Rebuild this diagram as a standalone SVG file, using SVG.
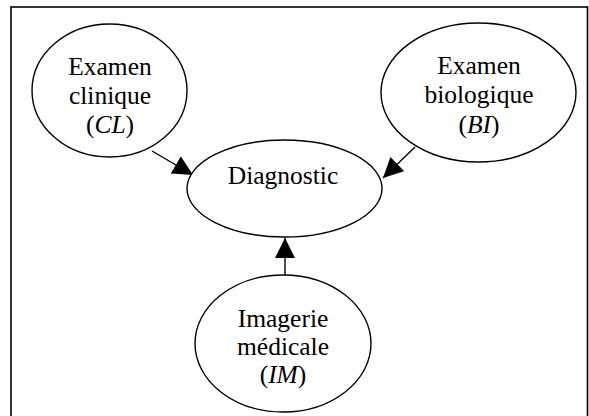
<svg xmlns="http://www.w3.org/2000/svg" width="589" height="416" viewBox="0 0 589 416">
<defs>
<style>
.node ellipse{fill:#fff;stroke:#000;stroke-width:1.4}
.lbl{font-family:"Liberation Serif","Times New Roman",serif;font-size:25.5px;fill:#000;text-anchor:middle}
.it{font-style:italic}
.edge{stroke:#000;stroke-width:1.4;fill:none}
</style>
<marker id="ah" markerWidth="20" markerHeight="20" viewBox="0 0 20 20" refX="20" refY="10" orient="auto" markerUnits="userSpaceOnUse">
<path d="M0,0 L20,10 L0,20 Z" fill="#000"/>
</marker>
</defs>
<rect x="0" y="0" width="589" height="416" fill="#fff"/>
<rect id="frame" x="11" y="7" width="576.5" height="430" fill="none" stroke="#000" stroke-width="1.6"/>
<g id="connectors">
<line class="edge" x1="152" y1="151" x2="193" y2="175" marker-end="url(#ah)"/>
<line class="edge" x1="415" y1="147" x2="383" y2="178" marker-end="url(#ah)"/>
<line class="edge" x1="285" y1="275" x2="285" y2="238" marker-end="url(#ah)"/>
</g>
<g id="CL" class="node">
<ellipse cx="109.5" cy="90.5" rx="77.5" ry="66.5"/>
<text class="lbl" x="110" y="75">Examen</text>
<text class="lbl" x="110" y="104">clinique</text>
<text class="lbl" x="110" y="133">(<tspan class="it">CL</tspan>)</text>
</g>
<g id="BI" class="node">
<ellipse cx="478.5" cy="92.5" rx="97.5" ry="69.5"/>
<text class="lbl" x="479" y="74">Examen</text>
<text class="lbl" x="479" y="103">biologique</text>
<text class="lbl" x="479" y="133">(<tspan class="it">BI</tspan>)</text>
</g>
<g id="DIAG" class="node">
<ellipse cx="284.5" cy="188.5" rx="97.5" ry="48.5"/>
<text class="lbl" x="283" y="184">Diagnostic</text>
</g>
<g id="IM" class="node">
<ellipse cx="283" cy="343.5" rx="88" ry="68.5"/>
<text class="lbl" x="283" y="327">Imagerie</text>
<text class="lbl" x="283" y="355">médicale</text>
<text class="lbl" x="283" y="383">(<tspan class="it">IM</tspan>)</text>
</g>
</svg>
